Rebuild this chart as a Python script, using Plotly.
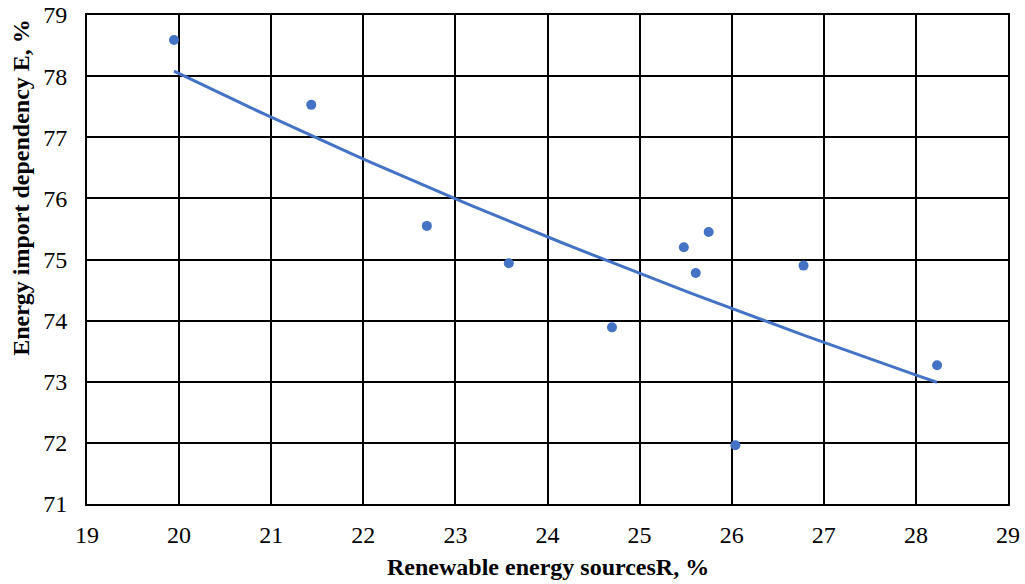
import numpy as np
import plotly.graph_objects as go

renewable = [19.945, 21.435, 22.69, 23.58, 24.70, 25.48, 25.61, 25.75, 26.04, 26.78, 28.23]
import_dep = [78.59, 77.53, 75.55, 74.94, 73.89, 75.20, 74.78, 75.45, 71.96, 74.90, 73.27]
x_ticks = list(range(19, 30))
y_ticks = list(range(71, 80))

# logarithmic trendline (as in spreadsheet charts)
a, b = np.polyfit(np.log(renewable), import_dep, 1)
xt = np.linspace(min(renewable), max(renewable), 60)
yt = a * np.log(xt) + b

fig = go.Figure()
fig.add_trace(go.Scatter(x=xt, y=yt, mode="lines",
                         line=dict(color="#4472C4", width=3), showlegend=False))
fig.add_trace(go.Scatter(x=renewable, y=import_dep, mode="markers",
                         marker=dict(color="#4472C4", size=10), showlegend=False))

font = dict(family="Liberation Serif, Times New Roman, serif", color="black", size=24)
fig.update_layout(
    width=1025, height=584,
    margin=dict(l=87, r=17, t=15, b=80, autoexpand=False),
    paper_bgcolor="white", plot_bgcolor="white",
    font=font,
    xaxis=dict(range=[19, 29], tickvals=x_ticks, showgrid=True, gridcolor="black",
               gridwidth=2, showline=True, linecolor="black", linewidth=2,
               mirror=True, zeroline=False, ticks="", automargin=False,
               ticklabelstandoff=8),
    yaxis=dict(range=[71, 79], tickvals=y_ticks, showgrid=True, gridcolor="black",
               gridwidth=2, showline=True, linecolor="black", linewidth=2,
               mirror=True, zeroline=False, ticks="", automargin=False,
               ticklabelstandoff=13),
    annotations=[
        dict(text="<b>Renewable energy sourcesR, %</b>", xref="paper", yref="paper",
             x=0.5, y=-0.129, yanchor="middle", xanchor="center", showarrow=False, font=font),
        dict(text="<b>Energy import dependency E, %</b>", xref="paper", yref="paper",
             x=-0.072, y=0.648, textangle=-90, xanchor="center", yanchor="middle",
             showarrow=False, font=font),
    ],
)
fig.write_html("out.html", config={"displayModeBar": False},
               post_script="document.body.style.margin='0';document.body.style.overflow='hidden';")
